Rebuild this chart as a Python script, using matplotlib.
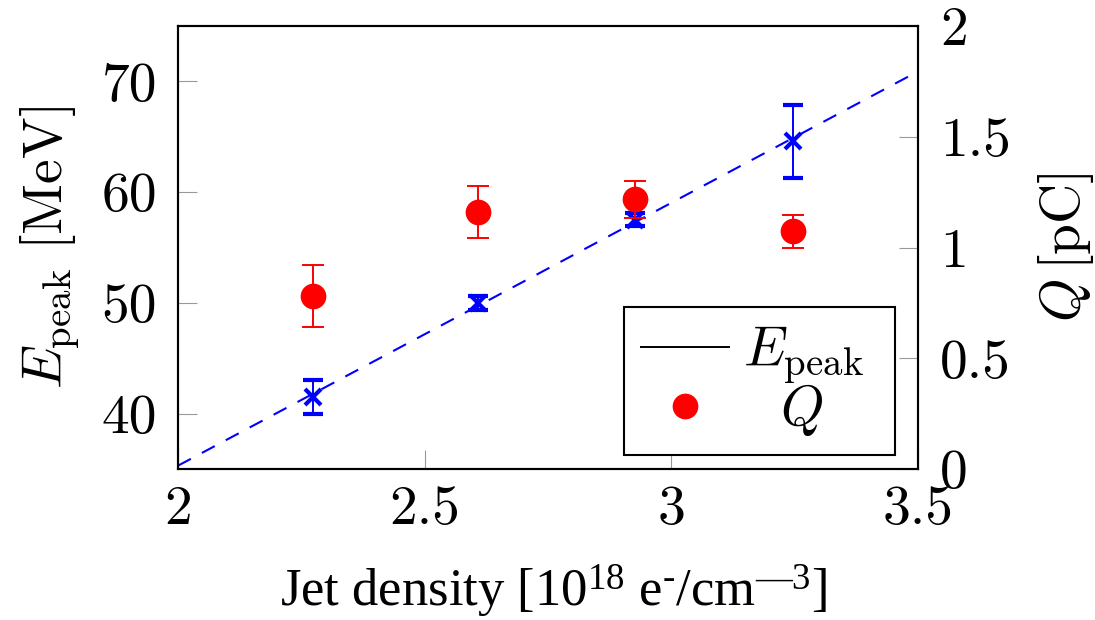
import matplotlib
matplotlib.use("Agg")
import matplotlib.pyplot as plt
from matplotlib.lines import Line2D
from matplotlib.offsetbox import DrawingArea

# ---- data ----
jet_density = [2.274, 2.608, 2.926, 3.247]
e_peak = [41.5, 50.0, 57.5, 64.6]
e_peak_err = [1.5, 0.6, 0.6, 3.3]
charge = [0.78, 1.16, 1.217, 1.073]
charge_err = [0.14, 0.117, 0.083, 0.075]
fit_x = [2.0, 3.5]
fit_y = [35.3, 70.9]

x_ticks = [2, 2.5, 3, 3.5]
x_ticklabels = ["2", "2.5", "3", "3.5"]
e_ticks = [40, 50, 60, 70]
e_ticklabels = ["40", "50", "60", "70"]
q_ticks = [0, 0.5, 1, 1.5, 2]
q_ticklabels = ["0", "0.5", "1", "1.5", "2"]

plt.rcParams["font.family"] = "cmr10"
plt.rcParams["axes.formatter.use_mathtext"] = True
plt.rcParams["mathtext.fontset"] = "cm"
plt.rcParams["mathtext.rm"] = "Liberation Serif"
plt.rcParams["mathtext.it"] = "Liberation Serif:italic"
plt.rcParams["mathtext.bf"] = "Liberation Serif:bold"

FS = 40

fig = plt.figure(figsize=(10.95, 6.2), dpi=100)
ax1 = fig.add_axes([178 / 1095, 1 - 469 / 620, 740 / 1095, 443 / 620])
ax2 = ax1.twinx()

for ax in (ax1, ax2):
    for s in ax.spines.values():
        s.set_linewidth(1.5)

ax1.plot(fit_x, fit_y, linestyle="--", color="blue", lw=1.5, dashes=(7, 6), zorder=2)
ax1.errorbar(jet_density, e_peak, yerr=e_peak_err, fmt="x", color="blue",
             ms=11.5, mew=3, capsize=7.5, elinewidth=1.4, capthick=1.4, zorder=3)
ax2.errorbar(jet_density, charge, yerr=charge_err, fmt="o", color="red",
             ms=17.5, capsize=7.8, elinewidth=1.4, capthick=1.4, zorder=3)

ax1.set_xlim(2, 3.5)
ax1.set_ylim(35, 75)
ax2.set_ylim(0, 2)

ax1.set_xticks(x_ticks, x_ticklabels)
ax1.set_yticks(e_ticks, e_ticklabels)
ax2.set_yticks(q_ticks, q_ticklabels)

ax1.tick_params(axis="x", direction="in", length=14, width=0.8, color="0.6",
                labelsize=FS, pad=12, top=False)
ax1.tick_params(axis="y", direction="in", length=14, width=0.8, color="0.6",
                labelsize=FS, pad=15, right=False)
ax2.tick_params(axis="y", direction="in", length=14, width=0.8, color="0.6",
                labelsize=FS, pad=16, left=False)

ax1.set_ylabel(r"$E_{\mathrm{peak}}\ [\mathrm{MeV}]$", fontsize=FS, labelpad=14)
ax2.set_ylabel(r"$Q\,[\mathrm{pC}]$", fontsize=FS, labelpad=18)
for lab in (ax1.yaxis.label, ax2.yaxis.label):
    lab.set_math_fontfamily("cm")

ax1.set_xlabel("Jet density [$\\mathrm{10^{18}}$ e$^{\\mathrm{\u2010}}$/cm$^{\\mathrm{\u20143}}$]",
               fontsize=FS - 2.1, fontfamily="Liberation Serif", labelpad=20,
               math_fontfamily="custom")
ax1.xaxis.label.set_x(0.508)

handles = [Line2D([], [], color="black", lw=1.4),
           Line2D([], [], marker="o", ls="none", color="red", ms=17.5)]
labels = [r"$E_{\mathrm{peak}}$", r"$\enspace\;Q$"]
leg = ax2.legend(handles, labels, loc="lower right",
                 bbox_to_anchor=(895 / 1095, 1 - 455 / 620),
                 bbox_transform=fig.transFigure, borderaxespad=0,
                 fontsize=FS, frameon=True, fancybox=False, framealpha=1,
                 edgecolor="black", handlelength=1.6, handletextpad=0.25,
                 borderpad=0.3, labelspacing=-0.06)
leg.get_frame().set_linewidth(1.5)
for t in leg.get_texts():
    t.set_math_fontfamily("cm")
# extra right-hand padding after the legend texts
for column in leg._legend_handle_box.get_children():
    for row in column.get_children():
        row.get_children().append(DrawingArea(0, 0))

fig.savefig("out.png", dpi=100)
